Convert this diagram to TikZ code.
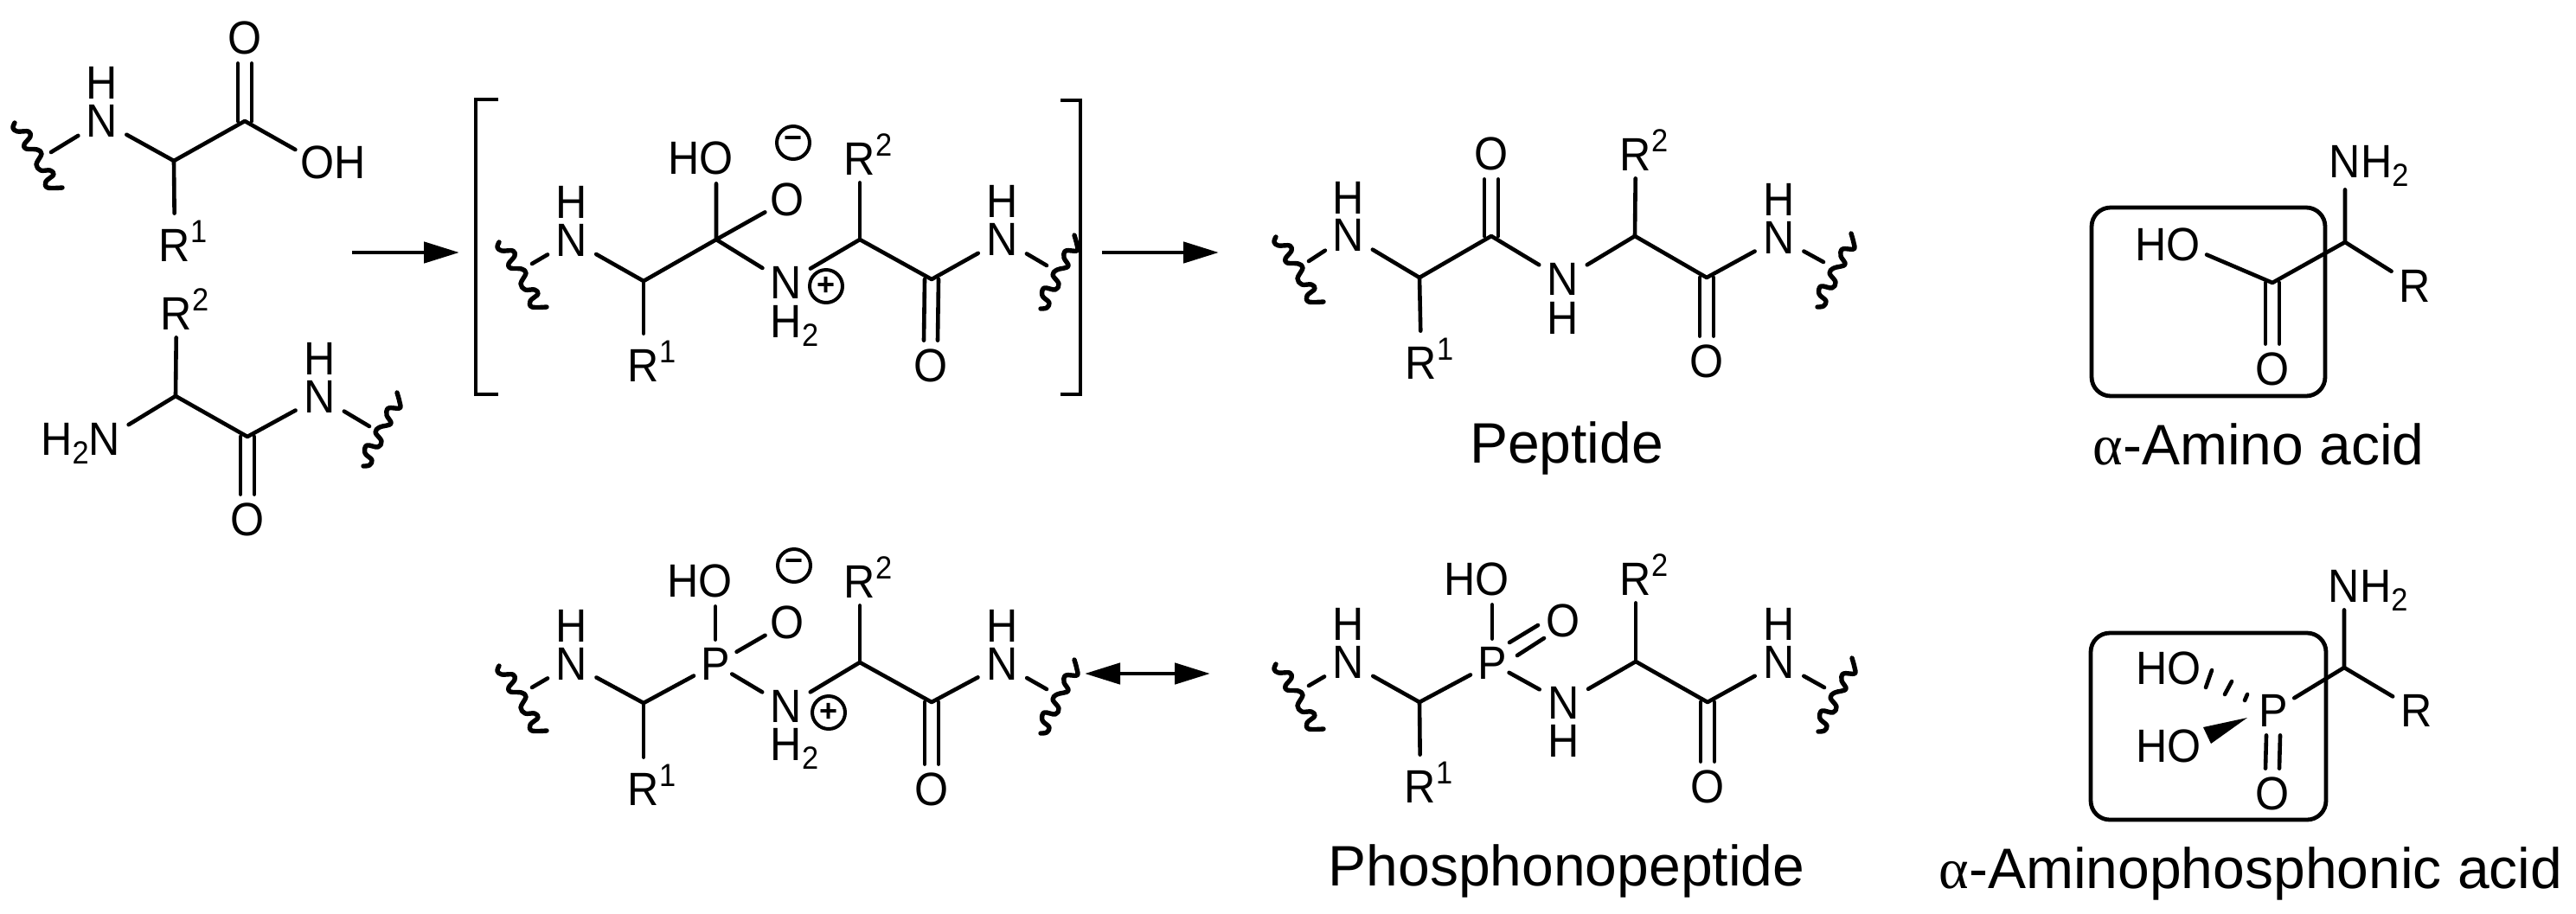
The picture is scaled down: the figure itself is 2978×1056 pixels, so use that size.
\documentclass[tikz,border=0pt]{standalone}
\usepackage{fontspec}
\setmainfont{Liberation Sans}
\newfontfamily\atomfam{Liberation Sans}[FakeStretch=0.93]
\newfontfamily\greekf{Liberation Serif}
\usetikzlibrary{calc,arrows.meta}
\newcommand{\subb}[1]{\smash{\raisebox{-5pt}{\fontsize{18.5}{18.5}\selectfont #1}}}
\newcommand{\supp}[1]{\smash{\raisebox{11pt}{\fontsize{18.5}{18.5}\selectfont #1}}}
% double bond, vertical: carbon, oxygen, anchor of oxygen
\newcommand{\dblv}[3]{\draw[bond] ([xshift=-4pt]#1) -- ([xshift=-4pt]#2.#3); \draw[bond] ([xshift=4pt]#1) -- ([xshift=4pt]#2.#3);}
% wavy end on the left of node #1: shift #2, bond start (#3,#4)
\newcommand{\lsq}[4]{%
  \coordinate (#1s) at ($(#1)+(#3,#4)$);
  \draw[bond] (#1s) -- (#1);
  \begin{scope}[shift={(#1)},xshift=#2*0.5pt]
  \draw[wavy] plot[smooth,tension=0.6] coordinates {(-84,2) (-86,8) (-81,12) (-68,12) (-66,18) (-73,27) (-71,32) (-58,33) (-53,38) (-59,50) (-54,57) (-43,57) (-39,62) (-48,70) (-46,77) (-29,77)};
  \end{scope}}
% wavy end on the right of node #1: bond end (#2,#3)
\newcommand{\rsq}[3]{%
  \coordinate (#1s) at ($(#1)+(#2,#3)$);
  \draw[bond] (#1) -- (#1s);
  \begin{scope}[shift={(#1)},xshift=(#2-51)*0.5pt]
  \draw[wavy] plot[smooth,tension=0.6] coordinates {(83,-5) (86,6) (86,13) (73,13) (71,21) (76,31) (63,35) (58,41) (65,51) (61,58) (48,56) (46,65) (54,73) (51,79) (44,80)};
  \end{scope}}
\tikzset{
  atomN/.style={circle,inner sep=0pt,minimum size=32pt,font=\atomfam\fontsize{27}{27}\selectfont},
  atomO/.style={atomN,minimum size=29pt},
  atomP/.style={atomN,minimum size=28pt},
  atomRb/.style={atomN,minimum size=37pt},
  atomRa/.style={atomN,minimum size=27pt},
  atomH/.style={inner sep=0pt,font=\atomfam\fontsize{27}{27}\selectfont},
  bond/.style={line width=2.3pt,line cap=round,line join=round},
  wavy/.style={line width=2.7pt,line cap=round,line join=round},
  brk/.style={line width=2.4pt,line join=miter},
  boxx/.style={line width=2.4pt,rounded corners=11pt},
  chg/.style={circle,draw,line width=2pt,inner sep=0pt,minimum size=19pt,font=\fontsize{18}{18}\selectfont\bfseries},
  caplabel/.style={anchor=base,inner sep=0pt,font=\fontsize{33}{33}\selectfont},
  arr/.style={line width=2.4pt,-{Triangle[length=20.5pt,width=12pt]}},
  darr/.style={line width=2.4pt,{Triangle[length=20.5pt,width=12pt]}-{Triangle[length=20.5pt,width=12pt]}},
}
\begin{document}
\begin{tikzpicture}[x=0.5pt,y=-0.5pt]
\useasboundingbox (0,0) rectangle (2978,1056);

% --- Molecule A
\node[atomN] (aN) at (118,140) {N};
\node[atomH] (aH) at (118,96) {H};
\coordinate (aC1) at (201,186);
\coordinate (aC2) at (283,140);
\node[atomO] (aO) at (283,44) {O};
\node[atomO] (aOH) at (367,187.5) {O\rlap{H}};
\node[atomRb] (aR) at (202,284) {R\rlap{\supp{1}}};
\draw[bond] (aN) -- (aC1) -- (aC2) -- (aOH);
\draw[bond] (aC1) -- (aR);
\dblv{aC2}{aO}{south}
\lsq{aN}{-17}{-59}{36}

% --- Molecule B
\node[atomN] (bNa) at (121,508) {\llap{H\subb{2}}N};
\coordinate (bC1) at (203,458);
\coordinate (bC2) at (286,505);
\node[atomRa] (bR) at (204,363) {R\rlap{\supp{2}}};
\node[atomN] (bN) at (370,459) {N};
\node[atomH] (bH) at (370,415) {H};
\node[atomO] (bO) at (286,601) {O};
\draw[bond] (bNa) -- (bC1) -- (bC2) -- (bN);
\draw[bond] (bC1) -- (bR);
\dblv{bC2}{bO}{north}
\rsq{bN}{57}{34}

% --- Reaction arrows and brackets
\coordinate (ar1a) at (407,292);
\coordinate (ar1b) at (531,292);
\draw[arr] (ar1a) -- (ar1b);
\coordinate (ar2a) at (1274,292);
\coordinate (ar2b) at (1409,292);
\draw[arr] (ar2a) -- (ar2b);
\draw[brk] (576,115) -- (550,115) -- (550,456) -- (576,456);
\draw[brk] (1226,116) -- (1249,116) -- (1249,456) -- (1226,456);

% --- Molecule C (intermediate)
\node[atomN] (cN1) at (661,278) {N};
\node[atomH] (cH1) at (661,234) {H};
\coordinate (cC1) at (744,325);
\coordinate (cC2) at (828,277);
\node[atomRb] (cR1) at (744,423) {R\rlap{\supp{1}}};
\node[atomO] (cHO) at (828,183) {\llap{H}O};
\node[atomO] (cOm) at (910,231) {O};
\node[chg] (cMinus) at (917,165) {−};
\node[atomN] (cN2) at (909,327) {N};
\node[atomH] (cH2) at (909,372) {H\rlap{\subb{2}}};
\node[chg] (cPlus) at (955,331) {+};
\coordinate (cC3) at (994,277);
\node[atomRa] (cR2) at (994,184) {R\rlap{\supp{2}}};
\coordinate (cC4) at (1077,323);
\node[atomO] (cO) at (1076,423) {O};
\node[atomN] (cN3) at (1159,277) {N};
\node[atomH] (cH3) at (1159,233) {H};
\draw[bond] (cN1) -- (cC1) -- (cC2) -- (cHO);
\draw[bond] (cC1) -- (cR1);
\draw[bond] (cC2) -- (cOm);
\draw[bond] (cC2) -- (cN2) -- (cC3) -- (cC4) -- (cN3);
\draw[bond] (cC3) -- (cR2);
\dblv{cC4}{cO}{north}
\lsq{cN1}{0}{-46}{27}
\rsq{cN3}{51}{30}

% --- Peptide
\node[atomN] (pN1) at (1559,272) {N};
\node[atomH] (pH1) at (1559,229) {H};
\coordinate (pC1) at (1641,321);
\coordinate (pC2) at (1724,273);
\node[atomRb] (pR1) at (1643,420) {R\rlap{\supp{1}}};
\node[atomO] (pO1) at (1724,178) {O};
\node[atomN] (pN2) at (1807,323) {N};
\node[atomH] (pH2) at (1807,368) {H};
\coordinate (pC3) at (1890,273);
\node[atomRa] (pR2) at (1891,179) {R\rlap{\supp{2}}};
\coordinate (pC4) at (1973,321);
\node[atomO] (pO2) at (1973,418) {O};
\node[atomN] (pN3) at (2057,275) {N};
\node[atomH] (pH3) at (2057,231) {H};
\draw[bond] (pN1) -- (pC1) -- (pC2) -- (pN2) -- (pC3) -- (pC4) -- (pN3);
\draw[bond] (pC1) -- (pR1);
\draw[bond] (pC3) -- (pR2);
\dblv{pC2}{pO1}{south}
\dblv{pC4}{pO2}{north}
\lsq{pN1}{0}{-46}{30}
\rsq{pN3}{51}{28}
\node[caplabel] (pLab) at (1811,535) {Peptide};

% --- alpha-Amino acid
\draw[boxx] (2418,240) rectangle (2688,458);
\node[atomN] (qN) at (2711,187) {N\rlap{H\subb{2}}};
\coordinate (qC1) at (2711,280);
\coordinate (qC2) at (2627,327);
\node[atomN] (qR) at (2792,331) {R};
\node[atomO] (qHO) at (2524,283) {\llap{H}O};
\node[atomO] (qO) at (2627,427) {O};
\draw[bond] (qN) -- (qC1) -- (qR);
\draw[bond] (qC1) -- (qC2) -- (qHO);
\dblv{qC2}{qO}{north}
\node[caplabel] (qLab) at (2611,537) {{\greekf α}-Amino acid};

% --- Molecule D (phosphonate intermediate)
\node[atomN] (dN1) at (661,768) {N};
\node[atomH] (dH1) at (661,724) {H};
\coordinate (dC1) at (744,813);
\node[atomRb] (dR1) at (744,913) {R\rlap{\supp{1}}};
\node[atomP] (dP) at (827,768) {P};
\node[atomO] (dHO) at (827,672) {\llap{H}O};
\node[atomO] (dOm) at (910,720) {O};
\node[chg] (dMinus) at (918,654) {−};
\node[atomN] (dN2) at (909,817) {N};
\node[atomH] (dH2) at (909,861) {H\rlap{\subb{2}}};
\node[chg] (dPlus) at (958,824) {+};
\coordinate (dC3) at (994,766);
\node[atomRa] (dR2) at (994,673) {R\rlap{\supp{2}}};
\coordinate (dC4) at (1077,812);
\node[atomO] (dO) at (1077,913) {O};
\node[atomN] (dN3) at (1159,768) {N};
\node[atomH] (dH3) at (1159,724) {H};
\draw[bond] (dN1) -- (dC1) -- (dP);
\draw[bond] (dC1) -- (dR1);
\draw[bond] (dP) -- (dHO);
\draw[bond] (dP) -- (dOm);
\draw[bond,shorten <=-3pt] (dP) -- (dN2);
\draw[bond] (dN2) -- (dC3) -- (dC4) -- (dN3);
\draw[bond] (dC3) -- (dR2);
\dblv{dC4}{dO}{north}
\lsq{dN1}{0}{-46}{27}
\rsq{dN3}{51}{29}
\coordinate (ar3a) at (1254,779);
\coordinate (ar3b) at (1399,779);
\draw[darr] (ar3a) -- (ar3b);

% --- Phosphonopeptide
\node[atomN] (eN1) at (1559,766) {N};
\node[atomH] (eH1) at (1559,722) {H};
\coordinate (eC1) at (1641,812);
\node[atomRb] (eR1) at (1642,910) {R\rlap{\supp{1}}};
\node[atomP] (eP) at (1725,767) {P};
\node[atomO] (eHO) at (1725,670) {\llap{H}O};
\node[atomO] (eOd) at (1807,718) {O};
\node[atomN] (eN2) at (1808,813) {N};
\node[atomH] (eH2) at (1808,857) {H};
\coordinate (eC3) at (1891,765);
\node[atomRa] (eR2) at (1891,670) {R\rlap{\supp{2}}};
\coordinate (eC4) at (1974,812);
\node[atomO] (eO) at (1974,910) {O};
\node[atomN] (eN3) at (2057,766) {N};
\node[atomH] (eH3) at (2057,722) {H};
\draw[bond] (eN1) -- (eC1) -- (eP);
\draw[bond] (eC1) -- (eR1);
\draw[bond] (eP) -- (eHO);
\draw[bond,shorten <=-3pt] (eP) -- (eN2);
\draw[bond] (eN2) -- (eC3) -- (eC4) -- (eN3);
\draw[bond] (eC3) -- (eR2);
\draw[bond] (1745,743) -- (1778,723);
\draw[bond] (1754,758) -- (1785,738);
\dblv{eC4}{eO}{north}
\lsq{eN1}{0}{-46}{27}
\rsq{eN3}{52}{29}
\node[caplabel] (eLab) at (1811,1024) {Phosphonopeptide};

% --- alpha-Aminophosphonic acid
\draw[boxx] (2417,732) rectangle (2689,948);
\node[atomN,minimum size=27pt] (fN) at (2710,678) {N\rlap{H\subb{2}}};
\coordinate (fC1) at (2710,772);
\node[atomN] (fR) at (2794,822) {R};
\node[atomP] (fP) at (2628,822) {P};
\node[atomH] (fHO1) at (2525,773) {\llap{H}O};
\node[atomH] (fHO2) at (2525,863) {\llap{H}O};
\node[atomO] (fO) at (2627,918) {O};
\draw[bond] (fN) -- (fC1) -- (fR);
\draw[bond] (fC1) -- (fP);
\dblv{fP.south}{fO}{north}
\fill (2598,830) -- (2547,841) -- (2556,860) -- cycle;
\draw[bond] (2550,795) -- (2557,775);
\draw[bond] (2572,803) -- (2580,788);
\draw[bond] (2595,810) -- (2598,803);
\node[caplabel] (fLab) at (2602,1027) {{\greekf α}-Aminophosphonic acid};
\end{tikzpicture}
\end{document}
